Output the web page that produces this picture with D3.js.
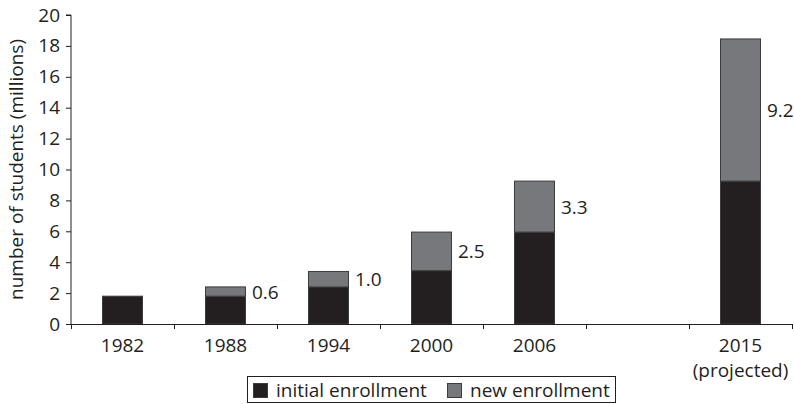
<!DOCTYPE html>
<html>
<head>
<meta charset="utf-8">
<script src="https://cdn.jsdelivr.net/npm/d3@7"></script>
<style>
  html, body { margin: 0; padding: 0; background: #fff; }
  svg { display: block; }
  text { font-family: "Open Sans", sans-serif; fill: #231f20; }
</style>
</head>
<body>
<svg id="chart" width="794" height="404"></svg>
<script>
// ---- data ----
const categories = ["1982", "1988", "1994", "2000", "2006", "gap", "2015"];
const tickLabels = [["1982"], ["1988"], ["1994"], ["2000"], ["2006"], [], ["2015", "(projected)"]];
const initialEnrollment = [1.8, 1.8, 2.4, 3.45, 5.95, null, 9.25];
const newEnrollment = [0, 0.6, 1.0, 2.5, 3.3, null, 9.2];
const yTicks = [0, 2, 4, 6, 8, 10, 12, 14, 16, 18, 20];
const seriesNames = ["initial enrollment", "new enrollment"];
const seriesColors = ["#231f20", "#77787b"];

// ---- layout ----
const svg = d3.select("#chart");
const mLeft = 71, mRight = 792, mTop = 15, mBottom = 324;
const fontSize = 19;

const x = d3.scaleBand().domain(categories).range([mLeft, mRight]).padding(0);
const y = d3.scaleLinear().domain([0, 20]).range([mBottom, mTop]);
const barW = 41;

const rows = categories.map((c, i) => ({
  cat: c, initial: initialEnrollment[i], added: newEnrollment[i]
})).filter(d => d.initial != null);

const stacked = d3.stack().keys(["initial", "added"])(rows);

// bars
stacked.forEach((layer, li) => {
  svg.append("g").selectAll("rect").data(layer.filter(d => d[1] - d[0] > 0))
    .join("rect")
    .attr("x", d => x(d.data.cat) + x.bandwidth() / 2 - barW / 2 + 0.5)
    .attr("y", d => y(d[1]))
    .attr("width", barW - 1)
    .attr("height", d => y(d[0]) - y(d[1]))
    .attr("fill", seriesColors[li])
    .attr("stroke", "#3c3c3e")
    .attr("stroke-width", 1);
});

// value labels for new enrollment
svg.append("g").selectAll("text").data(stacked[1].filter(d => d[1] - d[0] > 0))
  .join("text")
  .attr("x", d => x(d.data.cat) + x.bandwidth() / 2 + barW / 2 + 6)
  .attr("y", d => (y(d[0]) + y(d[1])) / 2)
  .attr("dominant-baseline", "central")
  .attr("font-size", fontSize)
  .text(d => d3.format(".1f")(d.data.added));

// y axis
const yAxis = d3.axisLeft(y).tickValues(yTicks).tickSize(5).tickPadding(6).tickFormat(d3.format("d"));
const gy = svg.append("g").attr("transform", `translate(${mLeft},0)`).call(yAxis);
gy.select(".domain").attr("stroke", "#231f20").attr("d", `M-5,${mTop}H0V${mBottom}`);
gy.selectAll(".tick line").attr("stroke", "#231f20");
gy.selectAll(".tick text").attr("font-size", fontSize).attr("font-family", "Open Sans, sans-serif").attr("fill", "#231f20");

// x axis baseline and boundary ticks
svg.append("line").attr("x1", mLeft - 5).attr("x2", mRight).attr("y1", mBottom + 0.5).attr("y2", mBottom + 0.5)
  .attr("stroke", "#231f20");
const bounds = categories.map(c => x(c)).concat([x.range()[1]]);
svg.append("g").selectAll("line").data(bounds).join("line")
  .attr("x1", d => Math.round(d) + 0.5).attr("x2", d => Math.round(d) + 0.5)
  .attr("y1", mBottom).attr("y2", mBottom + 5)
  .attr("stroke", "#231f20");

// x tick labels
const xl = svg.append("g").selectAll("text").data(categories).join("text")
  .attr("x", d => x(d) + x.bandwidth() / 2)
  .attr("y", 352)
  .attr("text-anchor", "middle")
  .attr("font-size", fontSize);
xl.each(function(d, i) {
  const t = d3.select(this);
  tickLabels[i].forEach((line, j) => {
    t.append("tspan").attr("x", x(d) + x.bandwidth() / 2).attr("dy", j === 0 ? 0 : 25).text(line);
  });
});

// y title
svg.append("text")
  .attr("transform", `translate(23,${(mTop + mBottom) / 2}) rotate(-90)`)
  .attr("text-anchor", "middle")
  .attr("font-size", fontSize)
  .text("number of students (millions)");

// legend
const lg = svg.append("g");
lg.append("rect").attr("x", 247.5).attr("y", 376.5).attr("width", 368).attr("height", 26)
  .attr("fill", "none").attr("stroke", "#231f20");
const legendX = [253, 447];
seriesNames.forEach((n, i) => {
  lg.append("rect").attr("x", legendX[i] + 0.5).attr("y", 383.5).attr("width", 14).attr("height", 14)
    .attr("fill", seriesColors[i]).attr("stroke", "#3c3c3e");
  lg.append("text").attr("x", legendX[i] + 23).attr("y", 390).attr("dominant-baseline", "central")
    .attr("font-size", fontSize).text(n);
});
</script>
</body>
</html>
